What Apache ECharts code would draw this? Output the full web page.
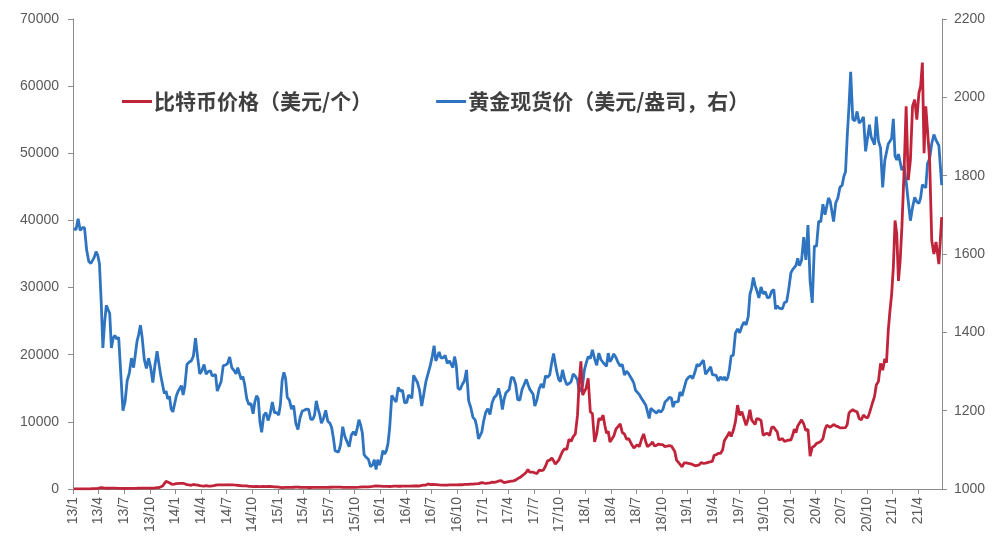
<!DOCTYPE html>
<html><head><meta charset="utf-8">
<script src="https://cdn.jsdelivr.net/npm/echarts@6/dist/echarts.min.js"></script>
<style>html,body{margin:0;padding:0;background:#fff}#c{width:1000px;height:550px}</style>
</head><body><div id="c"></div>
<script>
// Series names
const btcName = '比特币价格（美元/个）';
const goldName = '黄金现货价（美元/盎司，右）';

// X tick labels (quarterly, yy/m)
const xTickLabels = ['13/1','13/4','13/7','13/10','14/1','14/4','14/7','14/10','15/1','15/4','15/7','15/10',
  '16/1','16/4','16/7','16/10','17/1','17/4','17/7','17/10','18/1','18/4','18/7','18/10',
  '19/1','19/4','19/7','19/10','20/1','20/4','20/7','20/10','21/1','21/4'];

// Gold spot price, USD/oz — per year, 12 months, weekly samples per month
const gold2013 = [[1665,1662,1690,1660],[1667,1667,1610,1581],[1576,1578,1592,1606,1597],[1575,1480,1360,1424,1469],[1470,1448,1360,1385,1392],[1383,1387,1294,1200],[1223,1277,1296,1334],[1310,1312,1377,1395,1418],[1387,1331,1308,1334],[1310,1272,1316,1352],[1315,1287,1288,1244,1250],[1230,1237,1204,1197,1202]];
const gold2014 = [[1237,1249,1254,1264,1240],[1262,1318,1324,1327],[1339,1385,1336,1294],[1302,1318,1293,1300],[1302,1289,1293,1292,1250],[1253,1274,1315,1316],[1320,1337,1310,1303],[1294,1310,1306,1280,1287],[1268,1231,1216,1218],[1192,1222,1238,1231,1171],[1145,1188,1195,1175],[1192,1222,1195,1195]];
const gold2015 = [[1189,1217,1277,1298,1283],[1234,1227,1204,1213],[1168,1152,1182,1199],[1201,1204,1203,1178],[1178,1189,1225,1205,1190],[1168,1180,1201,1173],[1168,1157,1131,1098,1095],[1094,1113,1159,1134],[1121,1108,1137,1146],[1137,1156,1177,1163,1142],[1088,1081,1076,1057],[1062,1075,1050,1075,1061]];
const gold2016 = [[1075,1098,1089,1097,1116],[1157,1239,1230,1222],[1259,1250,1252,1220],[1221,1240,1235,1232,1290],[1289,1272,1252,1212],[1243,1275,1295,1315],[1340,1366,1327,1323,1350],[1335,1335,1341,1321],[1327,1328,1310,1338,1316],[1257,1254,1267,1276],[1304,1225,1208,1183],[1177,1159,1128,1133,1146]];
const gold2017 = [[1173,1196,1205,1190],[1220,1234,1239,1257],[1234,1203,1229,1245,1249],[1254,1285,1284,1267],[1228,1227,1254,1267],[1280,1267,1255,1256,1242],[1212,1228,1255,1268],[1258,1289,1285,1292],[1325,1346,1320,1297,1280],[1274,1304,1280,1266],[1269,1274,1294,1288],[1278,1248,1255,1265,1303]];
const gold2018 = [[1320,1338,1333,1355],[1333,1316,1347,1330],[1323,1323,1313,1347,1325],[1332,1345,1336,1323],[1314,1318,1291,1301],[1294,1298,1279,1270,1252],[1255,1241,1231,1223],[1214,1212,1180,1206,1201],[1198,1194,1201,1196],[1203,1222,1227,1234],[1232,1209,1222,1222,1223],[1248,1238,1258,1278]];
const gold2019 = [[1285,1289,1282,1298],[1318,1314,1322,1329],[1293,1299,1302,1312,1292],[1291,1290,1276,1286],[1279,1286,1277,1284,1305],[1340,1341,1398,1409],[1399,1415,1426,1419],[1440,1497,1513,1540,1520],[1507,1488,1516,1498],[1504,1488,1490,1505],[1509,1459,1468,1462,1463],[1460,1476,1478,1511]];
const gold2020 = [[1552,1560,1557,1571,1589],[1570,1584,1643,1585],[1674,1530,1475,1620],[1620,1683,1683,1727],[1700,1702,1743,1735,1730],[1683,1730,1743,1771],[1775,1798,1810,1902,1975],[2065,1944,1940,1964],[1934,1940,1950,1862],[1900,1930,1899,1902,1879],[1951,1889,1871,1770],[1839,1839,1881,1877,1895]];
const gold2021 = [[1945,1850,1840,1855,1850],[1814,1824,1784,1734],[1685,1719,1745,1733],[1729,1744,1777,1777,1769],[1831,1844,1882,1905],[1891,1877,1776]];

// Bitcoin price, USD — same structure
const btc2013 = [[13,14,16,18],[20,24,27,30],[35,46,47,89,92],[142,200,90,120,135],[112,116,122,130,128],[120,100,108,95],[77,97,91,95],[105,106,110,120,130],[125,140,132,128],[123,140,160,190],[210,300,450,800,1130],[1000,900,700,740]];
const btc2014 = [[800,850,830,820,850],[700,650,600,550],[670,630,590,500],[450,420,500,440],[440,450,500,580,620],[650,600,600,600],[630,620,620,600],[590,570,520,500,480],[480,470,400,400],[340,360,390,350,340],[370,400,350,380],[370,350,320,320]];
const btc2015 = [[280,260,210,250,230],[220,240,240,260],[280,280,260,250],[250,235,225,225],[235,240,237,238,230],[225,230,245,245],[260,280,280,290,285],[280,270,235,230],[235,240,232,235],[240,245,265,280,320],[380,330,330,360],[390,420,460,450,430]];
const btc2016 = [[450,390,380,380],[375,390,430,430],[410,410,415,420],[420,420,430,450,450],[450,455,445,530],[580,580,750,660],[680,650,660,650,620],[580,590,580,575],[610,620,610,605,610],[615,640,630,680],[700,710,740,740],[770,770,790,890,960]];
const btc2017 = [[900,820,890,920],[1010,1000,1050,1180],[1270,1100,950,960,1070],[1180,1180,1220,1330],[1550,1700,1950,2200],[2500,2900,2500,2600,2500],[2600,2300,2800,2750],[2800,3400,4200,4300],[4600,4200,3700,3700,4300],[4400,5600,6000,5900],[7400,7100,7800,8200],[11000,16000,19000,14000,14000]];
const btc2018 = [[15000,16500,11500,11200],[7000,8200,10500,10300],[11000,9500,8300,8600,7000],[6800,7900,8900,9300],[9700,8400,8200,7400],[7500,7600,6500,6100,6300],[6600,6300,7400,8200],[7000,6300,6400,6700,7000],[6400,6500,6700,6600],[6600,6300,6400,6450],[6400,6400,5600,4300,4000],[3800,3300,3900,3900]];
const btc2019 = [[3800,3600,3700,3550,3450],[3650,3600,3950,3800],[3850,3900,4000,4000,4100],[5000,5100,5300,5300],[5800,7200,7400,8000,8500],[7800,8700,10000,12500],[11000,11500,10500,9500],[10500,11800,10300,10100,9600],[10500,10400,10200,8000],[8200,8300,7950,9200],[9200,8800,8500,7300,7500],[7500,7100,7200,7300]];
const btc2020 = [[7300,8000,8900,8400,9400],[9800,10300,9700,8700],[8900,4900,6200,6400],[6800,6900,7100,7500],[8900,9500,9700,9200,9400],[9600,9400,9300,9100],[9100,9250,9150,9600,11300],[11600,11800,11600,11500],[10500,10300,11000,10700],[10600,11300,11400,13000,13800],[15500,16000,18700,17700],[19400,18800,23500,26500,29000]];
const btc2021 = [[33000,40000,38000,31000,34000],[39000,47000,57000,46000],[49000,57000,58000,55000],[59000,60000,63500,50000,57000],[57000,49000,37000,35000],[36800,33500,40500]];

const goldYears = [gold2013,gold2014,gold2015,gold2016,gold2017,gold2018,gold2019,gold2020,gold2021];
const btcYears = [btc2013,btc2014,btc2015,btc2016,btc2017,btc2018,btc2019,btc2020,btc2021];

// x = months since 2013-01 (weekly samples spread within their month)
function toPoints(years) {
  const pts = [];
  years.forEach((months, yi) => months.forEach((vals, mi) => vals.forEach((v, j) => {
    pts.push([yi * 12 + mi + j / vals.length + 0.1, v]);
  })));
  return pts;
}

const chart = echarts.init(document.getElementById('c'), null, {renderer: 'canvas'});
const axisColor = '#8c8c8c';
const labelColor = '#595959';
const fontFamily = 'Liberation Sans, Arial, sans-serif';

chart.setOption({
  animation: false,
  backgroundColor: '#ffffff',
  grid: {left: 73, right: 58, top: 19, bottom: 61, containLabel: false},
  legend: {
    left: 117, top: 86,
    itemWidth: 30, itemHeight: 3, itemGap: 64,
    icon: 'rect',
    textStyle: {fontSize: 21, color: '#404040', fontWeight: 'bold', fontFamily: 'Noto Sans CJK SC', padding: [0,0,0,-3]},
    data: [btcName, goldName]
  },
  xAxis: {
    type: 'value', min: 0, max: 101.8, interval: 3,
    axisLine: {show: true, onZero: false, lineStyle: {color: axisColor, width: 1}},
    axisTick: {show: true, length: 5, lineStyle: {color: axisColor}},
    splitLine: {show: false},
    axisLabel: {
      rotate: 90, margin: 8, color: labelColor, fontSize: 14, fontFamily: fontFamily,
      showMaxLabel: false,
      formatter: v => { const i = Math.round(v / 3); return (Math.abs(v - i * 3) < 1e-6 && xTickLabels[i]) ? xTickLabels[i] : ''; }
    }
  },
  yAxis: [
    {
      type: 'value', min: 0, max: 70000, interval: 10000, position: 'left',
      axisLine: {show: true, lineStyle: {color: axisColor}},
      axisTick: {show: true, length: 5, lineStyle: {color: axisColor}},
      splitLine: {show: false},
      axisLabel: {color: labelColor, fontSize: 14, fontFamily: fontFamily, margin: 14, formatter: v => String(v)}
    },
    {
      type: 'value', min: 1000, max: 2200, interval: 200, position: 'right',
      axisLine: {show: true, lineStyle: {color: axisColor}},
      axisTick: {show: true, length: 5, lineStyle: {color: axisColor}},
      splitLine: {show: false},
      axisLabel: {color: labelColor, fontSize: 14, fontFamily: fontFamily, margin: 12, formatter: v => String(v)}
    }
  ],
  series: [
    {
      name: goldName, type: 'line', yAxisIndex: 1, showSymbol: false, symbol: 'none',
      lineStyle: {color: '#2E74C0', width: 2.8}, itemStyle: {color: '#2E74C0'},
      data: toPoints(goldYears), z: 2
    },
    {
      name: btcName, type: 'line', yAxisIndex: 0, showSymbol: false, symbol: 'none',
      lineStyle: {color: '#C0243A', width: 2.8}, itemStyle: {color: '#C0243A'},
      data: toPoints(btcYears), z: 3
    }
  ]
});
</script></body></html>
